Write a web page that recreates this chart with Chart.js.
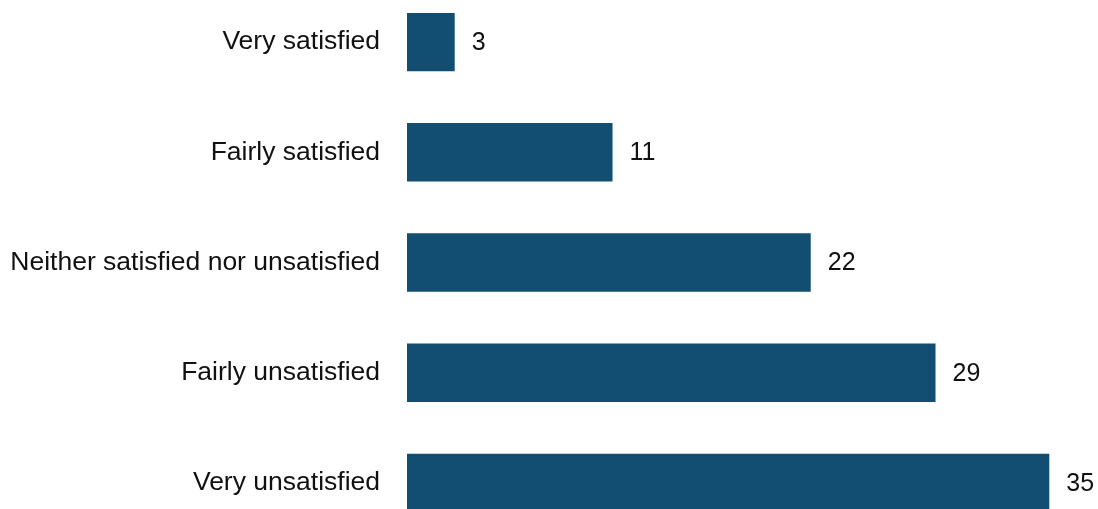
<!DOCTYPE html>
<html>
<head>
<meta charset="utf-8">
<script src="https://cdn.jsdelivr.net/npm/chart.js@4/dist/chart.umd.min.js"></script>
<style>
  html, body { margin: 0; padding: 0; background: #fff; overflow: hidden; }
  #wrap { position: absolute; left: 0; top: -13px; width: 1098px; height: 551px; }
</style>
</head>
<body>
<div id="wrap"><canvas id="grafica"></canvas></div>
<script>
// Categorías y valores
const categories = ['Very satisfied', 'Fairly satisfied', 'Neither satisfied nor unsatisfied', 'Fairly unsatisfied', 'Very unsatisfied'];
const values = [2.6, 11.2, 22.0, 28.8, 35.0];
const valueLabels = ['3', '11', '22', '29', '35'];

const barColor = '#114e72';
const textColor = '#111111';
const fontFamily = '"Liberation Sans", Arial, sans-serif';

// Plugin sencillo para escribir el valor al final de cada barra
const etiquetasValor = {
    id: 'etiquetasValor',
    afterDatasetsDraw(chart) {
        const ctx = chart.ctx;
        const meta = chart.getDatasetMeta(0);
        ctx.save();
        ctx.font = '25px ' + fontFamily;
        ctx.fillStyle = textColor;
        ctx.textAlign = 'left';
        ctx.textBaseline = 'middle';
        meta.data.forEach((bar, i) => {
            ctx.fillText(valueLabels[i], bar.x + 17, bar.y + 1);
        });
        ctx.restore();
    }
};

const ctx = document.getElementById('grafica').getContext('2d');
const grafica = new Chart(ctx, {
    type: 'bar',
    data: {
        labels: categories,
        datasets: [{
            data: values,
            backgroundColor: barColor,
            borderWidth: 0,
            categoryPercentage: 1,
            barPercentage: 0.53
        }]
    },
    options: {
        indexAxis: 'y',
        responsive: true,
        maintainAspectRatio: false,
        animation: false,
        layout: { padding: { left: 0, right: 12, top: 0, bottom: 0 } },
        plugins: {
            legend: { display: false },
            tooltip: { enabled: false }
        },
        scales: {
            x: {
                display: false,
                min: 0,
                max: 37
            },
            y: {
                grid: { display: false, drawTicks: false },
                border: { display: false },
                ticks: {
                    color: textColor,
                    font: { family: fontFamily, size: 26.5 },
                    padding: 27
                },
                afterFit(scale) {
                    scale.width = 407;
                    scale.paddingTop = 0;
                    scale.paddingBottom = 0;
                }
            }
        }
    },
    plugins: [etiquetasValor]
});
</script>
</body>
</html>
